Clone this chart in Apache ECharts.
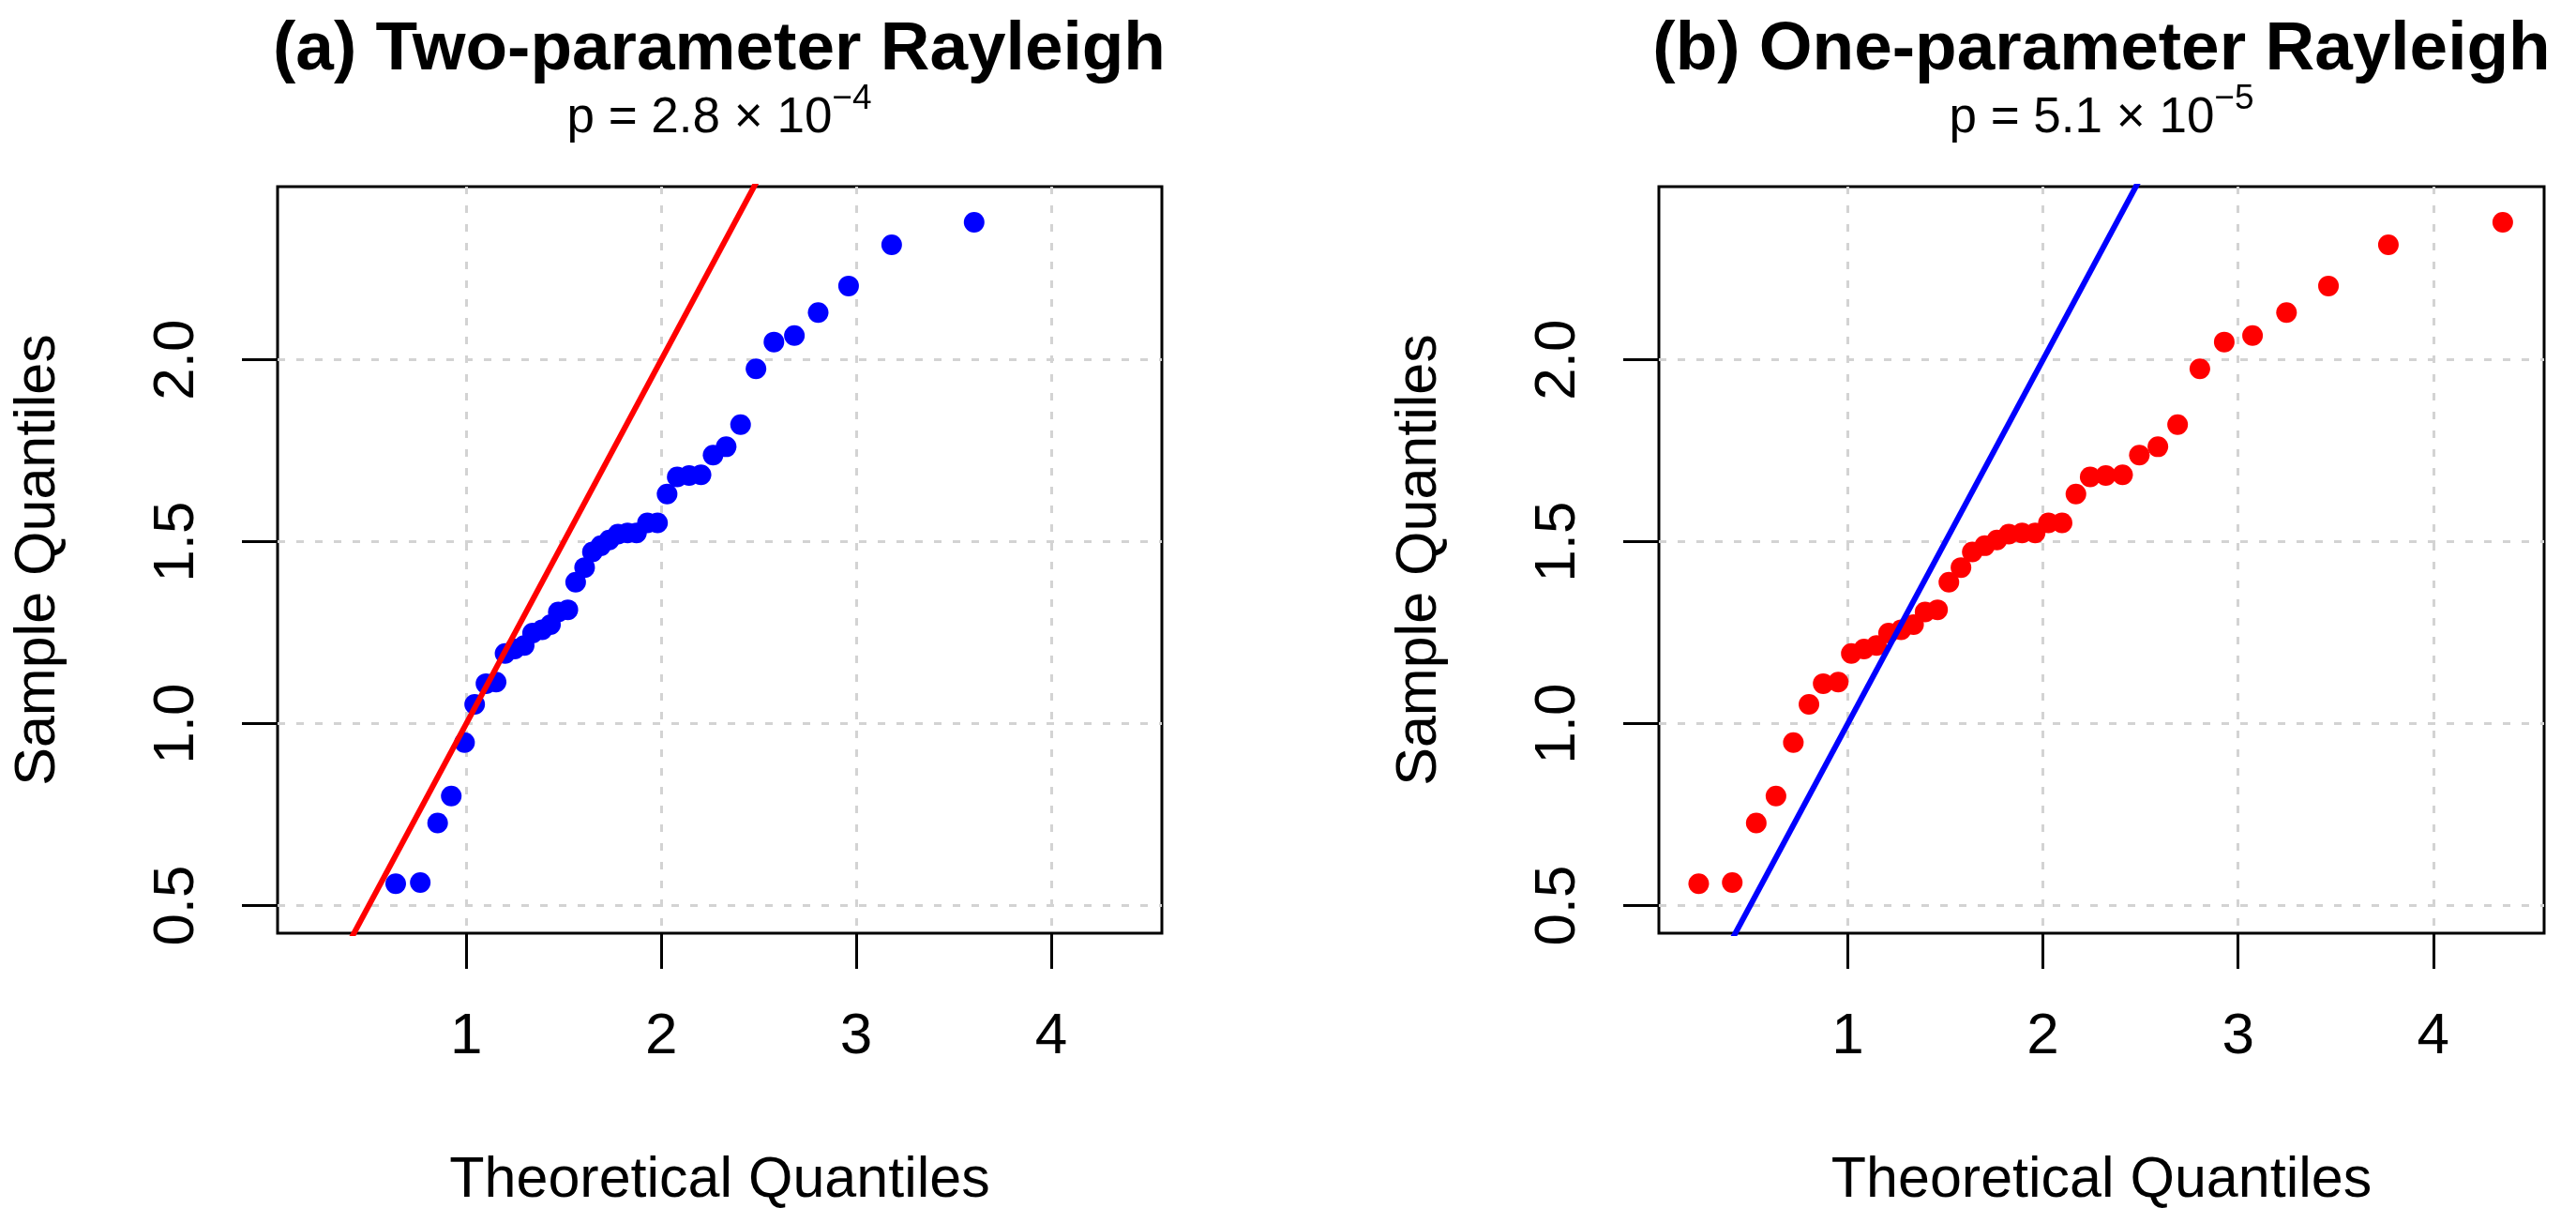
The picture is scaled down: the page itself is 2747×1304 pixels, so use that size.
<!DOCTYPE html>
<html>
<head>
<meta charset="utf-8">
<script src="https://cdn.jsdelivr.net/npm/echarts@6/dist/echarts.min.js"></script>
<style>
html, body { margin: 0; padding: 0; background: #fff; }
#main { width: 2747px; height: 1304px; }
</style>
</head>
<body>
<div id="main"></div>
<script>
// sample quantiles (same for both panels)
var sampleQuantiles = [0.560, 0.563, 0.727, 0.801, 0.948, 1.053, 1.110, 1.114, 1.193, 1.205,
    1.215, 1.249, 1.258, 1.272, 1.307, 1.313, 1.389, 1.429, 1.472, 1.489,
    1.505, 1.521, 1.524, 1.524, 1.552, 1.552, 1.631, 1.678, 1.682, 1.684,
    1.738, 1.761, 1.822, 1.975, 2.049, 2.067, 2.130, 2.203, 2.316, 2.378];

// theoretical quantiles, two-parameter Rayleigh (panel a)
var theoTwoParam = [0.638, 0.764, 0.853, 0.923, 0.991, 1.043, 1.101, 1.153, 1.199, 1.248,
    1.297, 1.340, 1.389, 1.432, 1.472, 1.521, 1.561, 1.607, 1.647, 1.690,
    1.733, 1.778, 1.827, 1.873, 1.929, 1.981, 2.030, 2.082, 2.143, 2.204,
    2.266, 2.333, 2.407, 2.486, 2.578, 2.683, 2.805, 2.961, 3.182, 3.605];

// theoretical quantiles, one-parameter Rayleigh (panel b)
var theoOneParam = [0.236, 0.408, 0.531, 0.632, 0.721, 0.801, 0.874, 0.951, 1.018, 1.083,
    1.147, 1.209, 1.273, 1.337, 1.396, 1.460, 1.518, 1.580, 1.638, 1.702,
    1.764, 1.825, 1.893, 1.960, 2.028, 2.098, 2.169, 2.242, 2.322, 2.408,
    2.494, 2.589, 2.690, 2.804, 2.929, 3.074, 3.248, 3.463, 3.770, 4.356];

// reference line y = x
var refLineX = [0, 5];
var refLineY = [0, 5];

var xTicks = [1, 2, 3, 4];
var yTicks = [0.5, 1.0, 1.5, 2.0];
var xRange = [0.032, 4.568];
var yRange = [0.424, 2.476];

var panelTitles = ['(a) Two-parameter Rayleigh', '(b) One-parameter Rayleigh'];
var pMantissa = ['2.8', '5.1'];
var pExponent = ['\u22124', '\u22125'];

var FONT = "'Liberation Sans', Arial, Helvetica, sans-serif";

function zip(xs, ys) {
    var out = [];
    for (var i = 0; i < xs.length; i++) {
        out.push([xs[i], ys[i]]);
    }
    return out;
}

function makeXAxis(idx) {
    return {
        type: 'value',
        gridIndex: idx,
        min: xRange[0],
        max: xRange[1],
        name: 'Theoretical Quantiles',
        nameLocation: 'middle',
        nameGap: 234,
        nameTextStyle: { fontSize: 61, color: '#000', fontFamily: FONT },
        axisLine: { show: false },
        axisTick: {
            show: true, inside: false, length: 38,
            customValues: xTicks,
            lineStyle: { color: '#000', width: 3 }
        },
        axisLabel: {
            show: true, margin: 80, fontSize: 62, color: '#000', fontFamily: FONT,
            customValues: xTicks,
            formatter: function (v) { return String(v); }
        },
        splitLine: {
            show: true,
            lineStyle: { color: '#d3d3d3', width: 3, type: [8, 12] }
        }
    };
}

function makeYAxis(idx) {
    return {
        type: 'value',
        gridIndex: idx,
        min: yRange[0],
        max: yRange[1],
        name: 'Sample Quantiles',
        nameLocation: 'middle',
        nameGap: 224,
        nameTextStyle: { fontSize: 61, color: '#000', fontFamily: FONT },
        axisLine: { show: false },
        axisTick: {
            show: true, inside: false, length: 38,
            customValues: yTicks,
            lineStyle: { color: '#000', width: 3 }
        },
        axisLabel: {
            show: true, margin: 76, fontSize: 62, color: '#000', fontFamily: FONT,
            rotate: 90,
            customValues: yTicks,
            formatter: function (v) { return v.toFixed(1); }
        },
        splitLine: {
            show: true,
            lineStyle: { color: '#d3d3d3', width: 3, type: [8, 12] }
        }
    };
}

var centers = [767, 2241];
var graphics = [];
for (var k = 0; k < 2; k++) {
    graphics.push({
        type: 'text', x: centers[k], y: 17, silent: true,
        style: {
            text: panelTitles[k], fontSize: 73, fontWeight: 'bold', fontFamily: FONT,
            fill: '#000', align: 'center', verticalAlign: 'top'
        }
    });
    // p value with raised exponent
    graphics.push({
        type: 'text', x: centers[k], y: 87, silent: true,
        style: {
            text: '{m|p = ' + pMantissa[k] + ' \u00d7 10}{s|' + pExponent[k] + '}',
            fill: '#000', align: 'center', verticalAlign: 'top',
            rich: {
                m: { fontSize: 53, lineHeight: 66, fontFamily: FONT, fill: '#000', verticalAlign: 'bottom' },
                s: { fontSize: 37, lineHeight: 34, fontFamily: FONT, fill: '#000', verticalAlign: 'top' }
            }
        }
    });
}

var chart = echarts.init(document.getElementById('main'));
var option = {
    animation: false,
    backgroundColor: '#fff',
    textStyle: { fontFamily: FONT },
    grid: [
        { left: 296, top: 199, width: 943, height: 796, show: true, borderColor: '#000', borderWidth: 3, containLabel: false, outerBoundsMode: 'none' },
        { left: 1769, top: 199, width: 944, height: 796, show: true, borderColor: '#000', borderWidth: 3, containLabel: false, outerBoundsMode: 'none' }
    ],
    xAxis: [makeXAxis(0), makeXAxis(1)],
    yAxis: [makeYAxis(0), makeYAxis(1)],
    graphic: graphics,
    series: [
        {
            type: 'scatter', xAxisIndex: 0, yAxisIndex: 0,
            symbol: 'circle', symbolSize: 22,
            itemStyle: { color: '#0000ff', opacity: 1 },
            data: zip(theoTwoParam, sampleQuantiles), z: 3
        },
        {
            type: 'line', xAxisIndex: 0, yAxisIndex: 0,
            showSymbol: false, clip: true, silent: true,
            lineStyle: { color: '#ff0000', width: 6 },
            data: zip(refLineX, refLineY), z: 4
        },
        {
            type: 'scatter', xAxisIndex: 1, yAxisIndex: 1,
            symbol: 'circle', symbolSize: 22,
            itemStyle: { color: '#ff0000', opacity: 1 },
            data: zip(theoOneParam, sampleQuantiles), z: 3
        },
        {
            type: 'line', xAxisIndex: 1, yAxisIndex: 1,
            showSymbol: false, clip: true, silent: true,
            lineStyle: { color: '#0000ff', width: 6 },
            data: zip(refLineX, refLineY), z: 4
        }
    ]
};
chart.setOption(option);
</script>
</body>
</html>
